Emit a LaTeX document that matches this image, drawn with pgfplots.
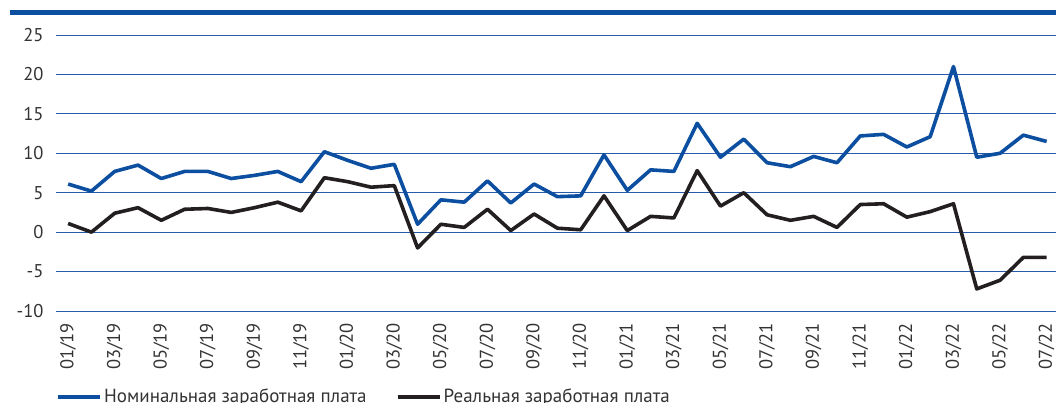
\documentclass[border=0pt]{standalone}
\usepackage{pgfplots}
\pgfplotsset{compat=1.18}
\usepackage{fontspec}
\setmainfont{PT Sans}
\definecolor{nomblue}{RGB}{12,78,160}
\definecolor{gridblue}{RGB}{40,90,170}
\definecolor{realblack}{RGB}{35,31,32}
\definecolor{txt}{RGB}{51,51,51}
\begin{document}
\begin{tikzpicture}[x=1pt,y=1pt]
\begin{axis}[
  at={(56pt,92pt)}, anchor=south west,
  scale only axis, width=1000pt, height=276pt,
  xmin=-0.52, xmax=42.4, ymin=-10, ymax=25,
  axis line style={draw=none},
  ytick={-10,-5,0,5,10,15,20,25},
  xtick={0,2,...,42},
  xticklabels={01/19,03/19,05/19,07/19,09/19,11/19,01/20,03/20,05/20,07/20,09/20,11/20,01/21,03/21,05/21,07/21,09/21,11/21,01/22,03/22,05/22,07/22},
  major tick length=0pt,
  ymajorgrids,
  grid style={gridblue, line width=0.8pt},
  /pgf/number format/assume math mode=true,
  tick label style={font=\fontsize{18.5}{22}\selectfont, text=txt},
  yticklabel style={xshift=-9pt},
  xticklabel style={rotate=90, anchor=east, xshift=-8.5pt},
  clip=false,
  legend columns=2,
  legend style={at={(0,-0.31)}, anchor=west, draw=none, fill=none, inner sep=0pt,
    font=\fontsize{19}{22}\selectfont, text=txt,
    /tikz/every even column/.append style={column sep=27pt}},
  legend cell align=left,
  legend image code/.code={\draw[#1, line width=4pt] (0pt,0pt) -- (42pt,0pt);},
]
\addplot[nomblue, line width=3.6pt, line join=round] coordinates {
(0,6.1)(1,5.2)(2,7.7)(3,8.5)(4,6.8)(5,7.7)(6,7.7)(7,6.8)(8,7.2)(9,7.7)(10,6.4)(11,10.2)
(12,9.1)(13,8.1)(14,8.6)(15,1.0)(16,4.1)(17,3.8)(18,6.5)(19,3.7)(20,6.1)(21,4.5)(22,4.6)(23,9.8)
(24,5.3)(25,7.9)(26,7.7)(27,13.8)(28,9.5)(29,11.8)(30,8.8)(31,8.3)(32,9.6)(33,8.8)(34,12.2)(35,12.4)
(36,10.8)(37,12.1)(38,21.0)(39,9.5)(40,10.0)(41,12.3)(42,11.5)};
\addlegendentry{Номинальная заработная плата}
\addplot[realblack, line width=3.6pt, line join=round] coordinates {
(0,1.1)(1,0.0)(2,2.4)(3,3.1)(4,1.5)(5,2.9)(6,3.0)(7,2.5)(8,3.1)(9,3.8)(10,2.7)(11,6.9)
(12,6.4)(13,5.7)(14,5.9)(15,-2.0)(16,1.0)(17,0.6)(18,2.9)(19,0.2)(20,2.3)(21,0.5)(22,0.3)(23,4.6)
(24,0.2)(25,2.0)(26,1.8)(27,7.8)(28,3.3)(29,5.0)(30,2.2)(31,1.5)(32,2.0)(33,0.6)(34,3.5)(35,3.6)
(36,1.9)(37,2.6)(38,3.6)(39,-7.2)(40,-6.1)(41,-3.2)(42,-3.2)};
\addlegendentry{Реальная заработная плата}
\end{axis}
\draw[nomblue, line width=5pt] (10pt,390pt) -- (1056pt,390pt);
\pgfresetboundingbox
\path[use as bounding box] (0,0) rectangle (1056pt,403pt);
\end{tikzpicture}
\end{document}
